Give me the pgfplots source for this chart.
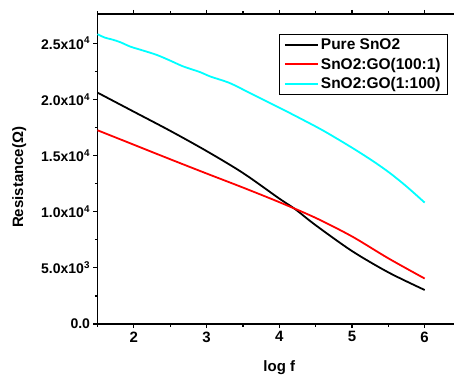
\documentclass[border=0pt]{standalone}
\usepackage{fontspec}
\setmainfont{Liberation Sans}
\usepackage{pgfplots}
\pgfplotsset{compat=1.18}
\definecolor{cyanline}{RGB}{0,255,255}
\begin{document}
\begin{tikzpicture}
\begin{axis}[
  scale only axis,
  width=363.5pt, height=310pt,
  xmin=1.5, xmax=6.5, ymin=0, ymax=27600,
  scaled y ticks=false,
  axis line style={line width=1.3pt},
  xtick={2,3,4,5,6},
  xticklabels={2,3,4,5,6},
  minor xtick={1.5,2.5,3.5,4.5,5.5},
  ytick={0,5000,10000,15000,20000,25000},
  yticklabels={0.0,5.0x10\textsuperscript{3},1.0x10\textsuperscript{4},1.5x10\textsuperscript{4},2.0x10\textsuperscript{4},2.5x10\textsuperscript{4}},
  minor ytick={2500,7500,12500,17500,22500},
  tick align=outside,
  major tick length=4pt, minor tick length=2.5pt,
  every tick/.style={line width=1.2pt, black},
  xtick pos=both, ytick pos=left,
  x tick label style={font=\bfseries\fontsize{15}{17}\selectfont},
  y tick label style={font=\bfseries\fontsize{14}{16}\selectfont},
  xlabel={log f}, ylabel={Resistance(Ω)},
  label style={font=\bfseries\fontsize{15}{17}\selectfont},
  xlabel style={at={(rel axis cs:0.5,-0.142)}, anchor=center},
  ylabel style={at={(rel axis cs:-0.215,0.473)}, anchor=center, rotate=0},
  legend style={at={(rel axis cs:0.498,0.935)}, anchor=north west,
    draw=black, line width=0.8pt, font=\bfseries\fontsize{15.5}{17}\selectfont,
    inner xsep=5pt, inner ysep=2pt, row sep=3pt},
  legend cell align=left,
  legend image code/.code={\draw[#1, line width=2pt] (0pt,0pt) -- (33pt,0pt);},
  every axis plot/.append style={line width=1.8pt, smooth, tension=0.5},
  clip=false,
]
\addplot[black] coordinates {
(1.5,20600) (2.0,18900) (2.5,17200) (3.0,15400) (3.5,13450) (4.0,11170)
(4.22,10220) (4.5,8800) (5.0,6500) (5.5,4600) (6.0,3030)};
\addlegendentry{Pure SnO2}
\addplot[red] coordinates {
(1.5,17250) (2.0,15960) (2.5,14670) (3.0,13400) (3.5,12150) (4.0,10850)
(4.5,9450) (5.0,7800) (5.5,5850) (6.0,4050)};
\addlegendentry{SnO2:GO(100:1)}
\addplot[cyanline] coordinates {
(1.5,25800) (1.6,25500) (1.7,25330) (1.81,25100) (1.95,24700) (2.1,24400)
(2.31,23970) (2.5,23450) (2.68,22930) (2.91,22430) (3.05,22040) (3.32,21450)
(3.6,20550) (3.83,19810) (4.05,19100) (4.29,18300) (4.61,17200)
(5.0,15700) (5.29,14500) (5.52,13450) (5.75,12250) (6.0,10810)};
\addlegendentry{SnO2:GO(1:100)}
\coordinate (O) at (rel axis cs:0,0);
\end{axis}
\pgfresetboundingbox
\path[use as bounding box] ([shift={(-97.5pt,-54pt)}]O) rectangle ++(454pt,378pt);
\end{tikzpicture}
\end{document}
